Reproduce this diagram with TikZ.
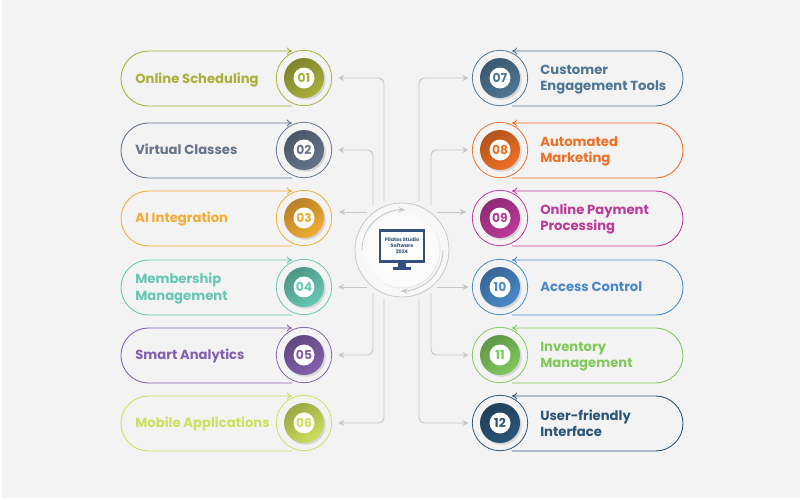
\documentclass[tikz,border=0pt]{standalone}
\usepackage{fontspec}
\setmainfont{Poppins}
\usetikzlibrary{arrows.meta,shadows}
\definecolor{backc}{HTML}{F3F3F3}
\definecolor{linkc}{HTML}{C6C6C6}
\definecolor{ca}{HTML}{A9B03A}
\definecolor{cb}{HTML}{64748A}
\definecolor{cc}{HTML}{F2AC34}
\definecolor{cd}{HTML}{66C8B2}
\definecolor{ce}{HTML}{8360AE}
\definecolor{cf}{HTML}{CDDF5C}
\definecolor{cg}{HTML}{4E7694}
\definecolor{ch}{HTML}{EE7026}
\definecolor{ci}{HTML}{BC3A9A}
\definecolor{cj}{HTML}{4A88C8}
\definecolor{ck}{HTML}{80C85C}
\definecolor{cl}{HTML}{2A5578}
\definecolor{screenc}{HTML}{34507E}
\tikzset{
  pill/.style={line width=0.5pt,-{To[length=3pt,width=4pt]}},
  link/.style={draw=linkc,line width=0.55pt,rounded corners=3pt,-{Stealth[length=3.5pt,width=3.5pt]}},
  ring/.style={circle,draw=#1,fill=backc,line width=0.45pt,inner sep=0pt,minimum size=1.108cm},
  disc/.style={circle,top color=#1!75!black,bottom color=#1,shading angle=35,inner sep=0pt,minimum size=0.8cm,drop shadow={shadow xshift=1pt,shadow yshift=-1pt,opacity=0.25}},
  num/.style={circle,fill=white,text=#1,font=\bfseries\fontsize{7}{7}\selectfont,inner sep=0pt,minimum size=0.42cm},
  lbl/.style={anchor=west,text=#1,align=left,inner sep=0pt,yshift=-0.3mm,font=\bfseries\fontsize{7.5}{9.2}\selectfont}
}
\begin{document}
\begin{tikzpicture}[x=0.2mm,y=0.2mm]
\useasboundingbox (0,0) rectangle (800,-500);
\fill [white] (0,0) rectangle (800,-500);
\fill [backc] (2,0) rectangle (800,-498);
% left pills
\draw [pill,ca] (292,-106) -- (148.5,-106) arc (270:90:27.5) -- (292,-51);
\draw [pill,cb] (292,-178) -- (148.5,-178) arc (270:90:27.5) -- (292,-123);
\draw [pill,cc] (292,-246) -- (148.5,-246) arc (270:90:27.5) -- (292,-191);
\draw [pill,cd] (292,-315) -- (148.5,-315) arc (270:90:27.5) -- (292,-260);
\draw [pill,ce] (292,-383) -- (148.5,-383) arc (270:90:27.5) -- (292,-328);
\draw [pill,cf] (292,-451) -- (148.5,-451) arc (270:90:27.5) -- (292,-396);
% right pills
\draw [pill,cg] (512,-106) -- (655.5,-106) arc (-90:90:27.5) -- (512,-51);
\draw [pill,ch] (512,-178) -- (655.5,-178) arc (-90:90:27.5) -- (512,-123);
\draw [pill,ci] (512,-246) -- (655.5,-246) arc (-90:90:27.5) -- (512,-191);
\draw [pill,cj] (512,-315) -- (655.5,-315) arc (-90:90:27.5) -- (512,-260);
\draw [pill,ck] (512,-383) -- (655.5,-383) arc (-90:90:27.5) -- (512,-328);
\draw [pill,cl] (512,-451) -- (655.5,-451) arc (-90:90:27.5) -- (512,-396);
% rings
\node [ring=ca] (ringa) at (304,-78) {};
\node [ring=cb] (ringb) at (304,-150) {};
\node [ring=cc] (ringc) at (304,-218) {};
\node [ring=cd] (ringd) at (304,-287) {};
\node [ring=ce] (ringe) at (304,-355) {};
\node [ring=cf] (ringf) at (304,-423) {};
\node [ring=cg] (ringg) at (500,-78) {};
\node [ring=ch] (ringh) at (500,-150) {};
\node [ring=ci] (ringi) at (500,-218) {};
\node [ring=cj] (ringj) at (500,-287) {};
\node [ring=ck] (ringk) at (500,-355) {};
\node [ring=cl] (ringl) at (500,-423) {};
\node [disc=ca] (disca) at (304,-78) {};
\node [disc=cb] (discb) at (304,-150) {};
\node [disc=cc] (discc) at (304,-218) {};
\node [disc=cd] (discd) at (304,-287) {};
\node [disc=ce] (disce) at (304,-355) {};
\node [disc=cf] (discf) at (304,-423) {};
\node [disc=cg] (discg) at (500,-78) {};
\node [disc=ch] (disch) at (500,-150) {};
\node [disc=ci] (disci) at (500,-218) {};
\node [disc=cj] (discj) at (500,-287) {};
\node [disc=ck] (disck) at (500,-355) {};
\node [disc=cl] (discl) at (500,-423) {};
\node [num=ca] (numa) at (304,-78) {01};
\node [num=cb] (numb) at (304,-150) {02};
\node [num=cc] (numc) at (304,-218) {03};
\node [num=cd] (numd) at (304,-287) {04};
\node [num=ce] (nume) at (304,-355) {05};
\node [num=cf] (numf) at (304,-423) {06};
\node [num=cg] (numg) at (500,-78) {07};
\node [num=ch] (numh) at (500,-150) {08};
\node [num=ci] (numi) at (500,-218) {09};
\node [num=cj] (numj) at (500,-287) {10};
\node [num=ck] (numk) at (500,-355) {11};
\node [num=cl] (numl) at (500,-423) {12};
% labels
\node [lbl=ca] (txta) at (135,-79) {Online Scheduling};
\node [lbl=cb] (txtb) at (135,-148) {Virtual Classes};
\node [lbl=cc] (txtc) at (135,-218) {AI Integration};
\node [lbl=cd] (txtd) at (135,-287) {Membership\\Management};
\node [lbl=ce] (txte) at (135,-354) {Smart Analytics};
\node [lbl=cf] (txtf) at (135,-422) {Mobile Applications};
\node [lbl=cg] (txtg) at (540,-78) {Customer\\Engagement Tools};
\node [lbl=ch] (txth) at (540,-150) {Automated\\Marketing};
\node [lbl=ci] (txti) at (540,-217.5) {Online Payment\\Processing};
\node [lbl=cj] (txtj) at (540,-285) {Access Control};
\node [lbl=ck] (txtk) at (540,-355) {Inventory\\Management};
\node [lbl=cl] (txtl) at (540,-421.5) {User-friendly\\Interface};
% hub
\node [circle,draw=linkc,fill=backc!60!white,line width=0.45pt,inner sep=0pt,minimum size=1.88cm] (hub) at (402,-250) {};
\node [circle,inner color=white,outer color=backc!40!white,inner sep=0pt,minimum size=1.5cm,drop shadow={shadow xshift=0.6pt,shadow yshift=-0.6pt,opacity=0.12}] (hubin) at (402,-250) {};
\draw [linkc,line width=0.5pt,-{Stealth[length=4pt,width=3pt]}] (362,-250) arc (180:85:40);
\draw [linkc,line width=0.5pt,-{Stealth[length=4pt,width=3pt]}] (443,-250) arc (0:-92:41);
\node [draw=screenc,fill=white,line width=1.2pt,inner sep=0pt,minimum width=0.88cm,minimum height=0.62cm,text=screenc,align=center,font=\bfseries\fontsize{2.8}{3.4}\selectfont] (screen) at (402,-246) {Pilates Studio\\Software\\2024};
\fill [screenc] (398,-262) rectangle (406,-267);
\fill [screenc] (393,-267) rectangle (411,-269.5);
% links
\coordinate (la) at (384,-201);
\coordinate (lb) at (373,-205);
\coordinate (lc) at (367,-212);
\coordinate (lcx) at (339,-212);
\coordinate (ld) at (367,-287);
\coordinate (le) at (373,-293);
\coordinate (lf) at (384,-299);
\coordinate (lg) at (419,-201);
\coordinate (lh) at (431,-205);
\coordinate (li) at (437,-212);
\coordinate (lix) at (466,-212);
\coordinate (lj) at (437,-287);
\coordinate (lk) at (431,-293);
\coordinate (ll) at (419,-299);
\draw [link,shorten >=3.4pt] (la) |- (ringa);
\draw [link,shorten >=3.4pt] (lb) |- (ringb);
\draw [link] (lc) -- (lcx);
\draw [link,shorten >=3.4pt] (ld) -- (ringd);
\draw [link,shorten >=3.4pt] (le) |- (ringe);
\draw [link,shorten >=3.4pt] (lf) |- (ringf);
\draw [link,shorten >=1.9pt] (lg) |- (ringg);
\draw [link,shorten >=1.9pt] (lh) |- (ringh);
\draw [link] (li) -- (lix);
\draw [link,shorten >=1.9pt] (lj) -- (ringj);
\draw [link,shorten >=1.9pt] (lk) |- (ringk);
\draw [link,shorten >=1.9pt] (ll) |- (ringl);
\end{tikzpicture}
\end{document}
